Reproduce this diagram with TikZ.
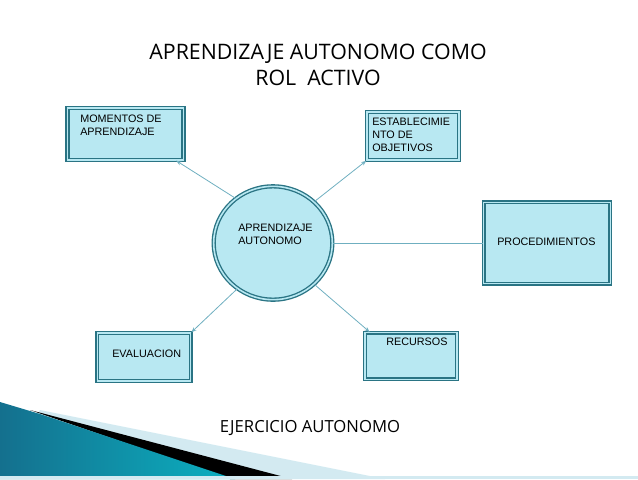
\documentclass[tikz,border=0pt]{standalone}
\usepackage{fontspec}
\setmainfont{Open Sans}
\newfontfamily\boxfont{Liberation Sans}
\usetikzlibrary{shapes.geometric,arrows.meta}
\definecolor{boxfill}{HTML}{B8E8F2}
\definecolor{boxline}{HTML}{2A7484}
\definecolor{conncol}{HTML}{6FAFC0}
\definecolor{wedge}{HTML}{14708E}
\definecolor{pale}{HTML}{D3EAF1}
\begin{document}
\begin{tikzpicture}[
	x=0.75pt,
	y=-0.75pt,
	box/.style={
		draw = boxline,
		fill = boxfill,
		double = boxfill,
		double distance = 1.2pt,
		line width = 1pt,
		rectangle,
		inner sep =+ 0pt
	},
	boxtext/.style={
		font=\boxfont\fontsize{8.1}{9.6}\selectfont,
		align=left,
		inner sep =+ 0pt
	},
	conn/.style={
		draw = conncol,
		line width = 0.6pt,
		-{Stealth[length=4pt,open]}
	}
]
\useasboundingbox (0,0) rectangle (638,479);
% bottom left decoration
\fill[pale] (40,410) -- (385,479) -- (0,479) -- cycle;
\fill[black] (30,410) -- (292,479) -- (230,479) -- cycle;
\shade[left color=wedge, right color=wedge!55!cyan] (0,402) -- (40,414) -- (235,479) -- (0,479) -- cycle;
\fill[pale] (0,476) rectangle (638,479);

% title
\node[font=\fontsize{16}{19.5}\selectfont, align=center] (title) at (318,65) {APRENDIZAJE AUTONOMO COMO\\ROL\ \ ACTIVO};

% boxes
\node[box, minimum width=87pt, minimum height=39pt] (mom) at (125.5,134) {};
\node[boxtext, anchor=north west] (momtxt) at (80,115) {MOMENTOS DE\\APRENDIZAJE};
\node[box, minimum width=69pt, minimum height=36pt] (est) at (413,136) {};
\node[boxtext, anchor=north west] (esttxt) at (372,118) {ESTABLECIMIE\\NTO DE\\OBJETIVOS};
\node[box, minimum width=95pt, minimum height=61pt] (proc) at (547,243) {};
\node[boxtext, anchor=west] (proctxt) at (497,242) {PROCEDIMIENTOS};
\node[box, minimum width=69pt, minimum height=35pt] (rec) at (411,356) {};
\node[boxtext, anchor=north west] (rectxt) at (386,338) {RECURSOS};
\node[box, minimum width=70pt, minimum height=36pt] (eva) at (144,357) {};
\node[boxtext, anchor=west] (evatxt) at (112,354) {EVALUACION};

% centre
\node[ellipse, draw=boxline, fill=boxfill, double=boxfill, double distance=1.2pt,
	line width=1pt, minimum width=89pt, minimum height=85pt] (aut) at (273,243) {};
\node[boxtext, anchor=north west] (auttxt) at (238,224) {APRENDIZAJE\\AUTONOMO};

% connectors
\draw[conn] (aut.130) -- ([xshift=-6pt]mom.south east);
\draw[conn] (aut.45) -- (est.south west);
\draw[conn, -] (aut.east) -- (proc.west);
\draw[conn] (aut.-45) -- ([xshift=4pt]rec.north west);
\draw[conn] (aut.-128) -- (eva.north east);

\node[font=\fontsize{12.5}{15}\selectfont] (ejer) at (310,428) {EJERCICIO AUTONOMO};
\end{tikzpicture}
\end{document}
